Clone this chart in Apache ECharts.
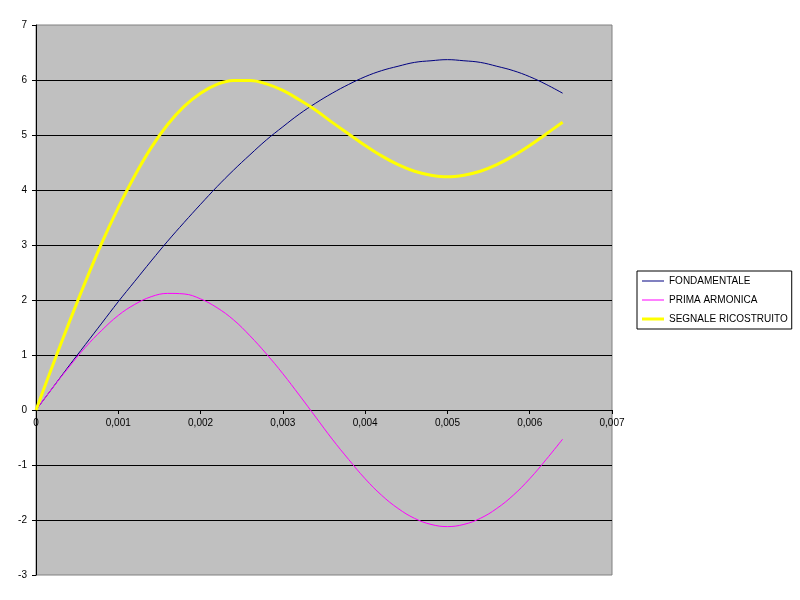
<!DOCTYPE html>
<html>
<head>
<meta charset="utf-8">
<script src="https://cdn.jsdelivr.net/npm/echarts@6/dist/echarts.min.js"></script>
<style>html,body{margin:0;padding:0;background:#fff}#c{width:800px;height:600px}</style>
</head>
<body>
<div id="c"></div>
<script>
const time = [0,0.0002,0.0004,0.0006,0.0008,0.0010,0.0012,0.0014,0.0016,0.0018,0.0020,0.0022,0.0024,0.0026,0.0028,0.0030,0.0032,0.0034,0.0036,0.0038,0.0040,0.0042,0.0044,0.0046,0.0048,0.0050,0.0052,0.0054,0.0056,0.0058,0.0060,0.0062,0.0064];
const fondamentale = [0,0.40,0.80,1.19,1.58,1.97,2.34,2.71,3.07,3.41,3.74,4.06,4.36,4.64,4.91,5.15,5.38,5.58,5.76,5.92,6.06,6.17,6.25,6.32,6.35,6.37,6.35,6.32,6.25,6.17,6.06,5.92,5.76];
const primaArmonica = [0,0.40,0.78,1.14,1.45,1.72,1.92,2.06,2.12,2.11,2.02,1.86,1.64,1.35,1.02,0.66,0.27,-0.13,-0.53,-0.90,-1.25,-1.55,-1.79,-1.97,-2.08,-2.12,-2.08,-1.97,-1.79,-1.55,-1.25,-0.90,-0.53];
const segnale = [0,0.80,1.58,2.33,3.04,3.68,4.26,4.77,5.19,5.52,5.76,5.92,5.99,5.99,5.93,5.81,5.64,5.45,5.23,5.02,4.81,4.62,4.46,4.34,4.27,4.24,4.27,4.34,4.46,4.62,4.81,5.02,5.23];
const seriesNames = ['FONDAMENTALE','PRIMA ARMONICA','SEGNALE RICOSTRUITO'];

const font = "'Liberation Sans', Arial, sans-serif";
const pairs = arr => time.map((t,i)=>[t,arr[i]]);
const thinIcon = 'path://M0,0M22,10M0,4.5L22,4.5L22,5.5L0,5.5Z';
const thickIcon = 'path://M0,0M22,10M0,3.5L22,3.5L22,6.5L0,6.5Z';
const chart = echarts.init(document.getElementById('c'));
chart.setOption({
  animation:false,
  backgroundColor:'#ffffff',
  textStyle:{fontFamily:font},
  grid:{left:36,right:188,top:25,bottom:25,show:true,backgroundColor:'#C0C0C0',borderColor:'#808080',borderWidth:1},
  legend:{
    orient:'vertical',left:637,top:271,
    backgroundColor:'#ffffff',borderColor:'#000000',borderWidth:1,
    padding:[5,4,5,5],itemWidth:22,itemHeight:10,itemGap:9,
    textStyle:{fontFamily:font,fontSize:10,color:'#000'},
    data:[
      {name:seriesNames[0],icon:thinIcon},
      {name:seriesNames[1],icon:thinIcon},
      {name:seriesNames[2],icon:thickIcon}
    ]
  },
  xAxis:{
    type:'value',min:0,max:0.007,interval:0.001,position:'bottom',offset:-165,
    axisLine:{onZero:false,lineStyle:{color:'#000',width:1}},
    axisTick:{show:true,inside:false,length:4,lineStyle:{color:'#000'}},
    axisLabel:{fontSize:10,color:'#000',fontFamily:font,margin:8,
      formatter:v=>String(+v.toFixed(3)).replace('.',',')},
    splitLine:{show:false}
  },
  yAxis:{
    type:'value',min:-3,max:7,interval:1,
    axisLine:{show:true,onZero:false,lineStyle:{color:'#000',width:1}},
    axisTick:{show:true,inside:false,length:4,lineStyle:{color:'#000'}},
    axisLabel:{fontSize:10,color:'#000',fontFamily:font,margin:9},
    splitLine:{show:true,showMinLine:false,showMaxLine:false,lineStyle:{color:'#000',width:1}}
  },
  series:[
    {name:seriesNames[0],type:'line',symbol:'none',smooth:0.4,data:pairs(fondamentale),lineStyle:{color:'#000080',width:1},itemStyle:{color:'#000080'},z:3},
    {name:seriesNames[1],type:'line',symbol:'none',smooth:0.4,data:pairs(primaArmonica),lineStyle:{color:'#FF00FF',width:1},itemStyle:{color:'#FF00FF'},z:4},
    {name:seriesNames[2],type:'line',symbol:'none',smooth:0.4,data:pairs(segnale),lineStyle:{color:'#FFFF00',width:3},itemStyle:{color:'#FFFF00'},z:5}
  ]
});
</script>
</body>
</html>
